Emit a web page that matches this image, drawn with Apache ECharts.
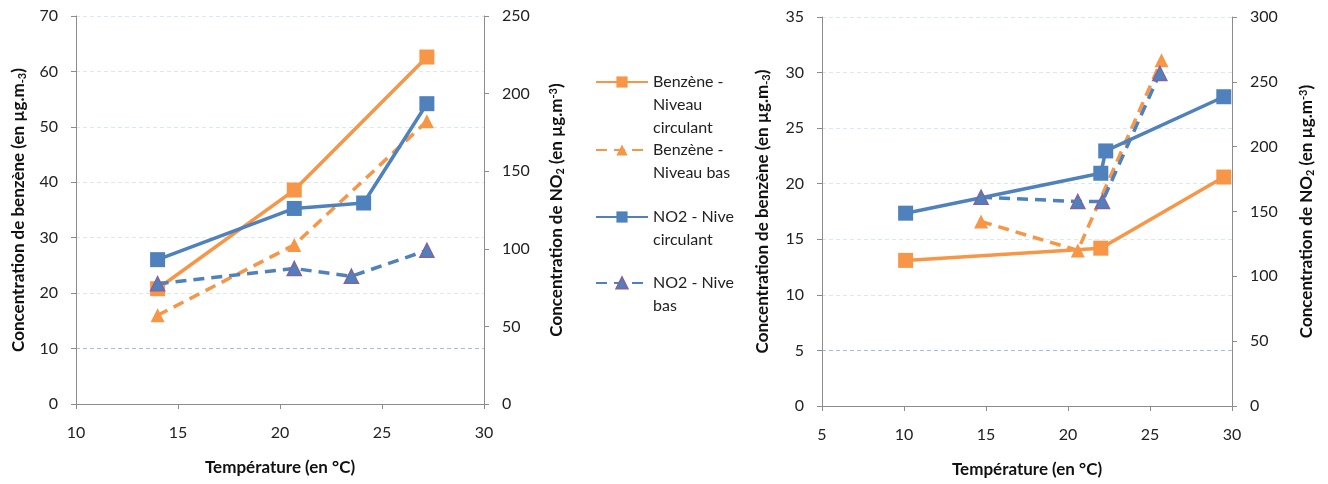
<!DOCTYPE html>
<html>
<head>
<meta charset="utf-8">
<script src="https://cdn.jsdelivr.net/npm/echarts@6/dist/echarts.min.js"></script>
<style>
html,body{margin:0;padding:0;background:#fff;}
#c{width:1328px;height:484px;}
</style>
</head>
<body>
<div id="c"></div>
<script>
// ---- Data (x = température °C, y = concentration) ----
const seriesNames = ['Benzène - Niveau circulant', 'Benzène - Niveau bas', 'NO2 - Niveau circulant', 'NO2 - Niveau bas'];
const legendLabels = ['Benzène -\nNiveau\ncirculant', 'Benzène -\nNiveau bas', 'NO2 - Niveau\ncirculant', 'NO2 - Niveau\nbas'];

// Left chart
const leftBenzeneCirc = [[14.0, 20.8], [20.7, 38.6], [27.2, 62.6]];
const leftBenzeneBas  = [[14.0, 16.0], [20.7, 28.7], [27.2, 51.0]];
const leftNO2Circ     = [[14.0, 93], [20.7, 126], [24.1, 129.5], [27.2, 193.5]];
const leftNO2Bas      = [[14.0, 77.5], [20.7, 87.3], [23.5, 82.3], [27.2, 99]];

// Right chart
const rightBenzeneCirc = [[10.1, 13.1], [22.0, 14.2], [29.5, 20.6]];
const rightBenzeneBas  = [[14.7, 16.6], [20.6, 14.0], [25.7, 31.1]];
const rightNO2Circ     = [[10.1, 148.7], [22.0, 179.5], [22.3, 196.7], [29.5, 238.5]];
const rightNO2Bas      = [[14.7, 161], [20.6, 157.7], [22.1, 157.7], [25.6, 256.5]];

// Axis ranges
const leftX = {min: 10, max: 30, interval: 5};
const leftY1 = {min: 0, max: 70, interval: 10};
const leftY2 = {min: 0, max: 250, interval: 50};
const rightX = {min: 5, max: 30, interval: 5};
const rightY1 = {min: 0, max: 35, interval: 5};
const rightY2 = {min: 0, max: 300, interval: 50};

const ORANGE = '#F79646', BLUE = '#4F81BD', PURPLE = '#8064A2';
const FONT = 'Lato';
const axisGray = '#8c8c8c';
const gridLight = '#dfe5f1', gridDark = '#a9bde3';

function xAxis(r, gridIndex) {
  return {
    type: 'value', gridIndex, min: r.min, max: r.max, interval: r.interval,
    name: 'Température (en °C)', nameLocation: 'middle', nameGap: 55,
    nameTextStyle: {fontFamily: FONT, fontWeight: 'bold', fontSize: 17, color: '#111'},
    axisLine: {show: true, onZero: false, lineStyle: {color: axisGray, width: 1}},
    axisTick: {show: true, length: 5, lineStyle: {color: axisGray}},
    axisLabel: {margin: 21, fontFamily: FONT, fontSize: 16, color: '#222'},
    splitLine: {show: false}
  };
}
const benzName = 'Concentration de benzène (en µg.m{sub|-3})';
const no2Name = 'Concentration de NO{sub|2} (en µg.m{sup|-3})';
const richName = {
  sub: {fontFamily: FONT, fontWeight: 'bold', fontSize: 11, color: '#111', verticalAlign: 'bottom', padding: [7, 0, 0, 0]},
  sup: {fontFamily: FONT, fontWeight: 'bold', fontSize: 11, color: '#111', verticalAlign: 'top', padding: [0, 0, 7, 0]}
};
function yAxis(r, gridIndex, pos, name, gap, splitColors) {
  return {
    type: 'value', gridIndex, position: pos, min: r.min, max: r.max, interval: r.interval,
    name, nameLocation: 'middle', nameGap: gap, nameRotate: 90,
    nameTextStyle: {fontFamily: FONT, fontWeight: 'bold', fontSize: 17, color: '#111', rich: richName},
    axisLine: {show: true, lineStyle: {color: axisGray, width: 1}},
    axisTick: {show: true, length: 5, lineStyle: {color: axisGray}},
    axisLabel: {margin: 18, fontFamily: FONT, fontSize: 16, color: '#222'},
    splitLine: splitColors ? {show: true, lineStyle: {color: splitColors, type: [4, 3], width: 1}} : {show: false}
  };
}

function mkSeries(kind, data, xi, yi) {
  const solid = kind === 0 || kind === 2;
  const color = kind < 2 ? ORANGE : BLUE;
  return {
    name: seriesNames[kind], type: 'line', data, xAxisIndex: xi, yAxisIndex: yi,
    symbol: solid ? 'rect' : 'triangle', symbolSize: solid ? 15 : 14,
    showAllSymbol: true,
    lineStyle: {color, width: 3.5, type: solid ? 'solid' : [11, 7]},
    itemStyle: {color, borderColor: kind === 3 ? PURPLE : color, borderWidth: kind === 3 ? 1.5 : 0},
    z: 2 + kind, animation: false
  };
}

function legendFor(i, top) {
  const nLines = legendLabels[i].split('\n').length;
  return {
    show: true, orient: 'vertical', left: 595, top: top, padding: 0,
    itemWidth: 52, itemHeight: 14, itemGap: 0,
    data: [seriesNames[i]],
    formatter: () => '\n'.repeat(nLines - 1) + legendLabels[i],
    textStyle: {fontFamily: FONT, fontSize: 16, color: '#222', lineHeight: 23, width: 83, overflow: 'truncate', ellipsis: ''},
    selectedMode: false
  };
}
function legendTop(i, center) {
  const n = legendLabels[i].split('\n').length;
  const h = (2 * n - 1) * 23;
  return center - h / 2;
}

const leftSplit = [gridLight, gridDark, gridLight, gridLight, gridLight, gridLight, gridLight, gridLight];
const rightSplit = [gridLight, gridDark, gridLight, gridLight, gridLight, gridLight, gridLight, gridLight];

const option = {
  backgroundColor: '#fff',
  animation: false,
  grid: [
    {left: 76, right: 1328 - 484, top: 16, bottom: 484 - 404},
    {left: 822, right: 1328 - 1232, top: 17, bottom: 484 - 406}
  ],
  xAxis: [xAxis(leftX, 0), xAxis(rightX, 1)],
  yAxis: [
    yAxis(leftY1, 0, 'left', benzName, 48, leftSplit),
    yAxis(leftY2, 0, 'right', no2Name, 64, null),
    yAxis(rightY1, 1, 'left', benzName, 50, rightSplit),
    yAxis(rightY2, 1, 'right', no2Name, 66, null)
  ],
  legend: [
    legendFor(0, legendTop(0, 82)),
    legendFor(1, legendTop(1, 150)),
    legendFor(2, legendTop(2, 217)),
    legendFor(3, legendTop(3, 283))
  ],
  series: [
    mkSeries(0, leftBenzeneCirc, 0, 0),
    mkSeries(1, leftBenzeneBas, 0, 0),
    mkSeries(2, leftNO2Circ, 0, 1),
    mkSeries(3, leftNO2Bas, 0, 1),
    mkSeries(0, rightBenzeneCirc, 1, 2),
    mkSeries(1, rightBenzeneBas, 1, 2),
    mkSeries(2, rightNO2Circ, 1, 3),
    mkSeries(3, rightNO2Bas, 1, 3)
  ]
};
const chart = echarts.init(document.getElementById('c'), null, {renderer: 'canvas'});
chart.setOption(option);
</script>
</body>
</html>
